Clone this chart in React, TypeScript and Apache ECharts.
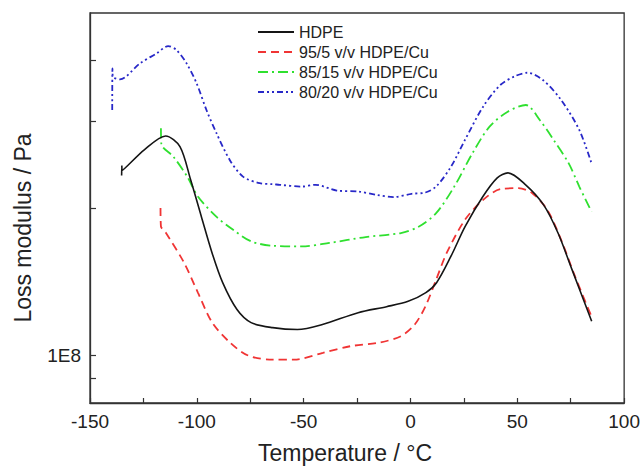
import React, { useEffect, useRef } from 'react';
import * as echarts from 'echarts';

const seriesNames = ['HDPE', '95/5 v/v HDPE/Cu', '85/15 v/v HDPE/Cu', '80/20 v/v HDPE/Cu'];
const seriesColors = ['#151515', '#f03434', '#2fe02f', '#2828c8'];

// Temperature (°C) and loss modulus (Pa)
const hdpeTemp = [-135.2, -135.1, -135, -124.6, -114.6, -107.9, -102.9, -97.9, -92.9, -87.9, -81.2, -74.6, -64.5, -52.9, -41.2, -24.5, -11.2, -1.1, 7.2, 12.2, 18.9, 25.6, 33.9, 40.6, 45.6, 53.9, 62.3, 69, 75.6, 84.8];
const hdpeModulus = [2.33e8, 2.44e8, 2.385e8, 2.628e8, 2.806e8, 2.669e8, 2.283e8, 1.922e8, 1.621e8, 1.408e8, 1.241e8, 1.167e8, 1.14e8, 1.13e8, 1.157e8, 1.223e8, 1.258e8, 1.29e8, 1.344e8, 1.408e8, 1.593e8, 1.834e8, 2.111e8, 2.304e8, 2.359e8, 2.23e8, 2.03e8, 1.78e8, 1.497e8, 1.175e8];

const cu5Temp = [-117, -116.8, -114.5, -106, -99.5, -92.8, -84.5, -76, -64.5, -54.5, -41, -28, -14.5, -4.5, 2, 7, 12, 17, 25.5, 34, 42, 50.5, 57, 64, 70.5, 77, 84.7];
const cu5Modulus = [2.0e8, 1.834e8, 1.78e8, 1.547e8, 1.344e8, 1.167e8, 1.063e8, 1.0e8, 0.981e8, 0.981e8, 1.013e8, 1.045e8, 1.063e8, 1.095e8, 1.157e8, 1.26e8, 1.428e8, 1.621e8, 1.892e8, 2.078e8, 2.185e8, 2.195e8, 2.144e8, 1.983e8, 1.723e8, 1.45e8, 1.202e8];

const cu15Temp = [-116.8, -116.6, -111, -104.5, -99.5, -91, -83, -74.5, -64.5, -51, -38, -21, -4.5, 4, 12, 20.5, 29, 37, 45.5, 54, 60.5, 67, 74, 79, 84.7];
const cu15Modulus = [2.91e8, 2.70e8, 2.546e8, 2.318e8, 2.111e8, 1.922e8, 1.805e8, 1.709e8, 1.675e8, 1.67e8, 1.697e8, 1.745e8, 1.778e8, 1.834e8, 1.952e8, 2.212e8, 2.587e8, 2.931e8, 3.145e8, 3.245e8, 3.025e8, 2.754e8, 2.469e8, 2.212e8, 1.967e8];

const cu20Temp = [-139.6, -139.5, -139.3, -136, -126.6, -118.8, -113.4, -109.5, -104.8, -100.1, -95.5, -90.8, -84.6, -78.4, -70.6, -64.5, -61.2, -51, -44.5, -34.5, -24.5, -16, -8, 0.5, 7, 12, 19, 25.5, 34, 42, 49, 54.7, 62, 70.5, 79, 84.7];
const cu20Modulus = [3.17e8, 3.855e8, 3.706e8, 3.661e8, 3.946e8, 4.136e8, 4.28e8, 4.2e8, 3.946e8, 3.593e8, 3.17e8, 2.842e8, 2.507e8, 2.318e8, 2.247e8, 2.237e8, 2.23e8, 2.212e8, 2.23e8, 2.171e8, 2.161e8, 2.128e8, 2.105e8, 2.138e8, 2.151e8, 2.212e8, 2.43e8, 2.754e8, 3.22e8, 3.564e8, 3.718e8, 3.776e8, 3.649e8, 3.322e8, 2.886e8, 2.469e8];

const xMin = -150;
const xMax = 100;
const xInterval = 50;
const yMinPa = 8e7;
const yMaxPa = 5e8;
const yTickPa = [9e7, 1e8, 2e8, 3e8, 4e8];
const yLabelPa = [1e8];

const temps = [hdpeTemp, cu5Temp, cu15Temp, cu20Temp];
const moduli = [hdpeModulus, cu5Modulus, cu15Modulus, cu20Modulus];
const dashes: (string | number[])[] = ['solid', [8, 5], [10, 4, 2, 4], [6, 3, 2, 3, 2, 3]];
const widths = [1.6, 1.8, 1.8, 1.8];

const FONT = '"Liberation Sans", Arial, sans-serif';

export default function App() {
  const ref = useRef<HTMLDivElement>(null);
  useEffect(() => {
    document.body.style.margin = '0';
    const chart = echarts.init(ref.current!, null, { renderer: 'svg' });
    const series = seriesNames.map((name, i) => ({
      name,
      type: 'line',
      symbol: 'none',
      smooth: 0.3,
      data: temps[i].map((t, j) => [t, Math.log10(moduli[i][j])]),
      lineStyle: { color: seriesColors[i], width: widths[i], type: dashes[i] },
      itemStyle: { color: seriesColors[i] },
      z: 4 - i,
    }));
    chart.setOption({
      animation: false,
      backgroundColor: '#ffffff',
      grid: { left: 90, right: 18, top: 13, bottom: 64, show: true, borderColor: '#333', borderWidth: 1.3, backgroundColor: 'transparent' },
      legend: {
        orient: 'vertical',
        left: 257,
        top: 24,
        padding: 0,
        itemWidth: 36,
        itemHeight: 14,
        itemGap: 4,
        data: seriesNames,
        itemStyle: { opacity: 0 },
        textStyle: { fontSize: 16, color: '#222', fontFamily: FONT, lineHeight: 14 },
      },
      xAxis: {
        type: 'value',
        min: xMin,
        max: xMax,
        interval: xInterval,
        axisLine: { show: true, onZero: false, lineStyle: { color: '#333', width: 1.3 } },
        axisTick: { show: true, inside: true, length: 5, lineStyle: { color: '#333', width: 1.2 } },
        minorTick: { show: true, splitNumber: 2, length: 5, lineStyle: { color: '#333', width: 1.2 } },
        splitLine: { show: false },
        axisLabel: { fontSize: 19, color: '#222', fontFamily: FONT, margin: 9 },
      },
      yAxis: {
        type: 'value',
        min: Math.log10(yMinPa),
        max: Math.log10(yMaxPa),
        axisLine: { show: true, onZero: false, lineStyle: { color: '#333', width: 1.3 } },
        axisTick: { show: true, inside: true, length: 6, customValues: yTickPa.map((v) => Math.log10(v)), lineStyle: { color: '#333', width: 1.2 } },
        splitLine: { show: false },
        axisLabel: {
          fontSize: 19,
          color: '#222',
          fontFamily: FONT,
          margin: 9,
          customValues: yLabelPa.map((v) => Math.log10(v)),
          formatter: (v: number) => '1E' + Math.round(v),
        },
      },
      graphic: [
        {
          type: 'text',
          x: 345,
          y: 453,
          style: { text: 'Temperature / °C', fontSize: 23, fontFamily: FONT, fill: '#222', align: 'center', verticalAlign: 'middle' },
        },
        {
          type: 'text',
          x: 23,
          y: 228,
          rotation: Math.PI / 2,
          style: { text: 'Loss modulus / Pa', fontSize: 23, fontFamily: FONT, fill: '#222', align: 'center', verticalAlign: 'middle' },
        },
      ],
      series,
    });
    return () => chart.dispose();
  }, []);
  return <div ref={ref} style={{ width: 643, height: 467 }} />;
}
